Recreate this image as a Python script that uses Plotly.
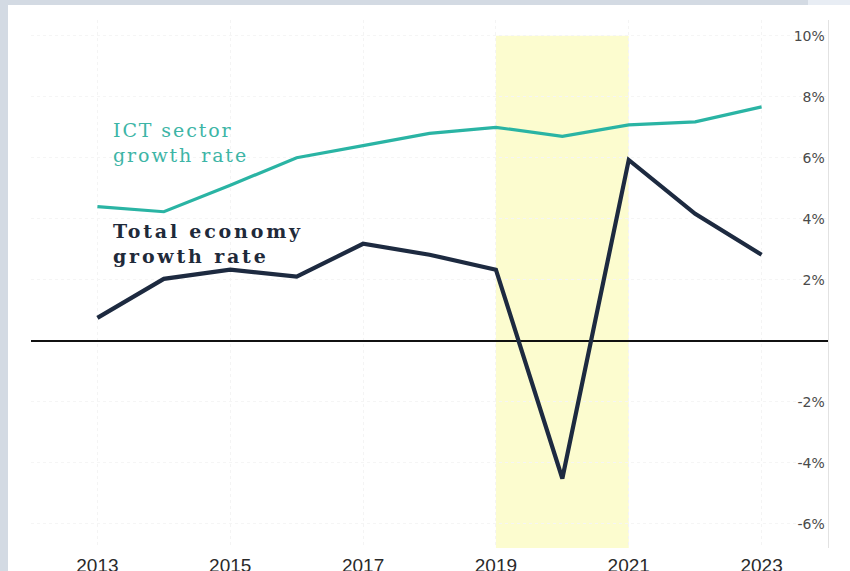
import plotly.graph_objects as go

# Annual growth rates, %
years = [2013, 2014, 2015, 2016, 2017, 2018, 2019, 2020, 2021, 2022, 2023]
ict_growth = [4.4, 4.23, 5.1, 6.0, 6.4, 6.8, 7.0, 6.7, 7.08, 7.18, 7.67]
total_growth = [0.75, 2.03, 2.33, 2.1, 3.18, 2.82, 2.33, -4.52, 5.93, 4.16, 2.82]

# Axis ticks
x_ticks = [2013, 2015, 2017, 2019, 2021, 2023]
y_ticks = [-6, -4, -2, 2, 4, 6, 8, 10]
y_ticktext = [f"{v}%" for v in y_ticks]

# Highlighted period
shade_start, shade_end = 2019, 2021
shade_bottom, shade_top = -6.8, 10

W, H = 850, 571
M_L, M_R, M_T, M_B = 31, 22, 20, 23
PW, PH = W - M_L - M_R, H - M_T - M_B


def px_x(p):
    return (p - M_L) / PW


def px_y(p):
    return (H - M_B - p) / PH


ICT_COLOR = "#2ab4a4"
TOTAL_COLOR = "#1d2a40"
FRAME = "#d3dae3"

fig = go.Figure()

fig.add_trace(go.Scatter(
    x=years, y=ict_growth, mode="lines",
    line=dict(color=ICT_COLOR, width=3.2),
    hoverinfo="skip", showlegend=False,
))
fig.add_trace(go.Scatter(
    x=years, y=total_growth, mode="lines",
    line=dict(color=TOTAL_COLOR, width=4.2),
    hoverinfo="skip", showlegend=False,
))

shapes = [
    # shaded period
    dict(type="rect", xref="x", yref="y", x0=shade_start, x1=shade_end,
         y0=shade_bottom, y1=shade_top, fillcolor="#fcfccf", line_width=0,
         layer="below"),
    # page frame strips
    dict(type="rect", xref="paper", yref="paper", x0=px_x(0), x1=px_x(8),
         y0=px_y(H), y1=px_y(0), fillcolor=FRAME, line_width=0, layer="above"),
    dict(type="rect", xref="paper", yref="paper", x0=px_x(0), x1=px_x(808),
         y0=px_y(5), y1=px_y(0), fillcolor=FRAME, line_width=0, layer="above"),
    dict(type="rect", xref="paper", yref="paper", x0=px_x(808), x1=px_x(W),
         y0=px_y(5), y1=px_y(0), fillcolor="#e8edf4", line_width=0, layer="above"),
]

annotations = [
    dict(x=2013.2, y=6.5, xref="x", yref="y", xanchor="left", yanchor="middle",
         showarrow=False, align="left",
         text='<span style="letter-spacing:1.9px">ICT sector<br>growth rate</span>',
         font=dict(family="DejaVu Serif", size=19, color="#3db5a6")),
    dict(x=2013.2, y=3.2, xref="x", yref="y", xanchor="left", yanchor="middle",
         showarrow=False, align="left",
         text='<span style="letter-spacing:2.8px"><b>Total economy<br>growth rate</b></span>',
         font=dict(family="DejaVu Serif", size=19, color="#1f2a3a")),
]

fig.update_layout(
    width=W, height=H,
    margin=dict(l=M_L, r=M_R, t=M_T, b=M_B, autoexpand=False),
    paper_bgcolor="white", plot_bgcolor="white",
    shapes=shapes, annotations=annotations,
    xaxis=dict(
        range=[2012, 2024], tickvals=x_ticks,
        ticktext=[str(v) for v in x_ticks],
        showgrid=True, gridcolor="#f4f4f4", griddash="dot", gridwidth=1,
        zeroline=False, showline=False, ticks="",
        ticklabelstandoff=4,
        tickfont=dict(family="Liberation Sans", size=19, color="#2a2a2a"),
        automargin=False,
    ),
    yaxis=dict(
        range=[-6.8, 10.52], side="right", tickvals=y_ticks, ticktext=y_ticktext,
        ticklabelposition="inside", ticklabelstandoff=3,
        showgrid=True, gridcolor="#f5f5f5", griddash="dot", gridwidth=1,
        zeroline=True, zerolinecolor="#111111", zerolinewidth=1.6,
        showline=True, linecolor="#e2e2e2", linewidth=1, ticks="",
        tickfont=dict(family="DejaVu Sans", size=14, color="#4a4a4a"),
        automargin=False,
    ),
)

fig.write_html("out.html")
